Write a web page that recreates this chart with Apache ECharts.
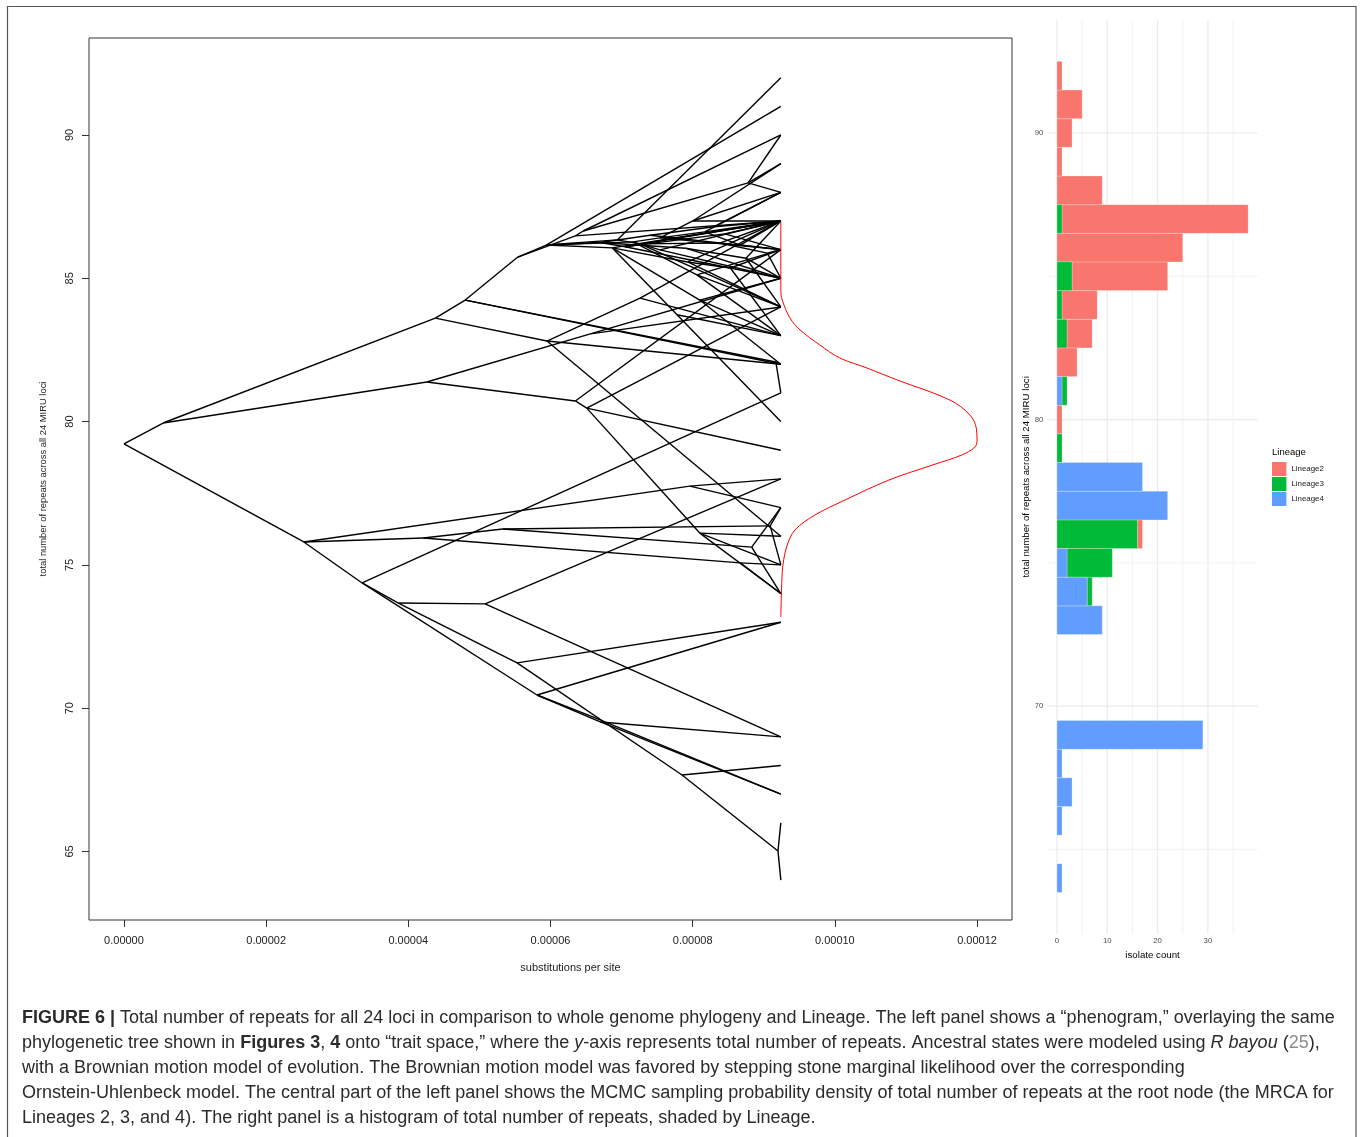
<!DOCTYPE html>
<html><head><meta charset="utf-8">
<script src="https://cdn.jsdelivr.net/npm/echarts@6/dist/echarts.min.js"></script>
<style>html,body{margin:0;padding:0;background:#fff}#c{width:1360px;height:1137px}</style>
</head><body><div id="c"></div>
<script>
// ================= DATA =================
// Phenogram internal nodes: depth (substitutions per site ×1e-5), trait value (total repeats), parent index
const nodeDepth = [0, 0.55, 4.38, 4.26, 4.80, 5.95, 5.54, 5.94, 6.35, 6.94,
  6.46, 7.16, 7.26, 7.54, 8.00, 8.38, 8.06, 8.78, 9.05, 6.87,
  8.10, 7.26, 6.56, 7.78, 6.35, 6.51, 8.10, 9.17, 7.54, 8.17,
  8.67, 7.93, 8.53, 2.53, 4.21, 7.96, 5.33, 8.67, 9.09, 8.83,
  3.35, 3.86, 5.08, 5.53, 7.85, 9.20, 5.81, 6.70, 6.56, 6.70,
  7.40, 8.30, 7.90, 8.75, 7.05, 8.45];
const nodeTrait = [79.22, 79.95, 83.61, 81.38, 84.24, 82.81, 85.74, 86.16, 86.48, 86.34,
  86.65, 86.27, 86.20, 86.41, 87.00, 86.23, 85.12, 88.33, 85.88, 86.06,
  84.24, 84.31, 83.06, 83.73, 80.72, 80.47, 76.11, 82.08, 85.99, 86.62,
  86.16, 85.57, 85.36, 75.80, 75.94, 77.75, 76.25, 75.07, 76.36, 75.62,
  74.37, 73.67, 73.64, 71.58, 67.67, 65.02, 70.46, 69.52, 69.73, 86.25,
  86.50, 86.80, 86.05, 85.70, 86.10, 86.55];
const nodeParent = [-1, 0, 1, 1, 2, 2, 4, 6, 6, 7,
  8, 7, 9, 11, 13, 12, 11, 10, 15, 7,
  19, 5, 3, 19, 3, 24, 25, 4, 11, 13,
  29, 19, 31, 0, 33, 33, 34, 34, 36, 36,
  33, 40, 41, 41, 43, 44, 40, 46, 46, 7,
  49, 50, 49, 52, 49, 54];
// Tips (isolates) all sit at the same depth
const tipDepth = 9.24;
const tipParent = [9, 7, 10, 17, 17, 14, 14, 13, 15, 18, 18, 12, 12, 16, 16, 16, 19, 20, 20, 20,
  21, 21, 22, 22, 23, 23, 27, 27, 4, 5, 25, 25, 26, 26, 26, 28, 28, 29, 29, 30,
  30, 31, 31, 32, 32, 8, 17, 14, 5, 51, 51, 50, 52, 53, 53, 53, 24, 54, 54, 55, 55,
  35, 35, 38, 38, 39, 39, 37, 37, 40, 42, 42, 43, 44, 45, 45, 46, 47, 47, 48];
const tipTrait = [92, 91, 90, 89, 88, 88, 87, 86, 87, 86, 85, 87, 84, 86, 84, 83, 87, 83, 85, 82,
  87, 83, 85, 84, 80, 83, 82, 81, 82, 76, 84, 79, 76, 75, 74, 87, 85, 88, 87, 87,
  86, 84, 87, 86, 83, 87, 90, 89, 82, 87, 88, 86, 85, 87, 84, 85, 86, 85, 87, 87, 86,
  78, 77, 77, 75, 77, 74, 75, 74, 81, 78, 69, 73, 68, 66, 64, 73, 69, 67, 67];
// MCMC root-state density curve (drawn from the tips outward)
const densityTrait = [86.96, 84.59, 84.24, 83.61, 83.20, 82.67, 82.22, 81.87, 81.45, 80.75, 80.23, 79.77,
  79.36, 79.11, 78.83, 78.49, 77.96, 77.26, 76.74, 76.22, 75.69, 75.00, 74.12, 73.18];
const densityDepth = [9.24, 9.24, 9.26, 9.37, 9.51, 9.79, 10.07, 10.45, 10.88, 11.62, 11.90, 11.99,
  12.00, 11.97, 11.78, 11.38, 10.76, 10.14, 9.72, 9.44, 9.33, 9.27, 9.25, 9.24];
// Histogram of total repeats by lineage
const repeatBins = [64,65,66,67,68,69,70,71,72,73,74,75,76,77,78,79,80,81,82,83,84,85,86,87,88,89,90,91,92];
const lineage2Counts = [0,0,0,0,0,0,0,0,0,0,0,0,1,0,0,0,1,0,4,5,7,19,25,37,9,1,3,5,1];
const lineage3Counts = [0,0,0,0,0,0,0,0,0,0,1,9,16,0,0,1,0,1,0,2,1,3,0,1,0,0,0,0,0];
const lineage4Counts = [1,0,1,3,1,29,0,0,0,9,6,2,0,22,17,0,0,1,0,0,0,0,0,0,0,0,0,0,0];
const lineageNames = ['Lineage2', 'Lineage3', 'Lineage4'];
const xTicks = [0, 2, 4, 6, 8, 10, 12];
const yTicks = [65, 70, 75, 80, 85, 90];
const histMajorY = [70, 80, 90], histMinorY = [65, 75, 85];
const countMajor = [0, 10, 20, 30], countMinor = [5, 15, 25, 35];

// ================= BUILD =================
const FONT = '"Liberation Sans", Arial, Helvetica, sans-serif';
const lineageColors = ['#F8766D', '#00BA38', '#619CFF'];
const edges = [];
nodeParent.forEach((p, i) => { if (p >= 0) edges.push([nodeDepth[p], nodeTrait[p], nodeDepth[i], nodeTrait[i]]); });
tipParent.forEach((p, i) => edges.push([nodeDepth[p], nodeTrait[p], tipDepth, tipTrait[i]]));
const densityData = densityDepth.map((x, i) => [x, densityTrait[i]]);

const stacks = [[], [], []];
repeatBins.forEach((b, i) => {
  let s = 0;
  const c = [lineage4Counts[i], lineage3Counts[i], lineage2Counts[i]];
  const idx = [2, 1, 0];
  c.forEach((v, k) => { if (v > 0) stacks[idx[k]].push([b, s, s + v]); s += v; });
});
const gridData = [];
histMajorY.forEach(v => gridData.push([0, v, 0, 1]));
histMinorY.forEach(v => gridData.push([0, v, 0, 0]));
countMajor.forEach(v => gridData.push([v, 70, 1, 1]));
countMinor.forEach(v => gridData.push([v, 70, 1, 0]));

const histSeries = lineageNames.map((name, k) => ({
  name, type: 'custom', xAxisIndex: 1, yAxisIndex: 1, z: 3,
  itemStyle: { color: lineageColors[k] },
  encode: { x: [1, 2], y: 0 },
  data: stacks[k],
  renderItem: (params, api) => {
    const b = api.value(0), s = api.value(1), e = api.value(2);
    const p1 = api.coord([s, b + 0.5]), p2 = api.coord([e, b - 0.5]);
    return { type: 'rect', shape: { x: p1[0], y: p1[1], width: p2[0] - p1[0], height: p2[1] - p1[1] },
      style: { fill: lineageColors[k], stroke: 'rgba(255,255,255,0.35)', lineWidth: 0.7 } };
  }
}));

const chart = echarts.init(document.getElementById('c'), null, { renderer: 'canvas' });
const captionY = [1018, 1043, 1068, 1093, 1118];
const captionLines = [
  '{b|FIGURE 6 |} Total number of repeats for all 24 loci in comparison to whole genome phylogeny and Lineage. The left panel shows a \u201cphenogram,\u201d overlaying the same',
  'phylogenetic tree shown in {b|Figures 3}, {b|4} onto \u201ctrait space,\u201d where the {i|y}-axis represents total number of repeats. Ancestral states were modeled using {i|R bayou} ({g|25}),',
  'with a Brownian motion model of evolution. The Brownian motion model was favored by stepping stone marginal likelihood over the corresponding',
  'Ornstein-Uhlenbeck model. The central part of the left panel shows the MCMC sampling probability density of total number of repeats at the root node (the MRCA for',
  'Lineages 2, 3, and 4). The right panel is a histogram of total number of repeats, shaded by Lineage.'
];
const CAP = 18;
const capColor = '#2b2b2b';
const captionGraphics = captionLines.map((t, i) => ({
  type: 'text', x: 22, y: captionY[i],
  style: { text: t, fontSize: CAP, fontFamily: FONT, fill: capColor, align: 'left', verticalAlign: 'middle',
    rich: {
      b: { fontWeight: 'bold', fontSize: CAP, fontFamily: FONT, fill: capColor },
      i: { fontStyle: 'italic', fontSize: CAP, fontFamily: FONT, fill: capColor },
      g: { fontSize: CAP, fontFamily: FONT, fill: '#8a8a8a' }
    } }
}));

const option = {
  animation: false,
  backgroundColor: '#fff',
  grid: [
    { left: 89, top: 38, width: 923, height: 882, show: true, borderColor: '#333', borderWidth: 1, backgroundColor: 'transparent' },
    { left: 1047.4, top: 19.8, width: 210.3, height: 914.2, show: false }
  ],
  legend: {
    orient: 'vertical', left: 1272, top: 462, padding: 0, itemWidth: 14.4, itemHeight: 14, itemGap: 1, icon: 'rect',
    selectedMode: false,
    textStyle: { fontSize: 7.9, color: '#1a1a1a', fontFamily: FONT },
    data: lineageNames.map((n, k) => ({ name: n, itemStyle: { color: lineageColors[k] } }))
  },
  xAxis: [
    { gridIndex: 0, type: 'value', min: -0.492, max: 12.492,
      splitLine: { show: false }, axisLine: { show: false, onZero: false },
      axisTick: { show: true, inside: false, length: 7, customValues: xTicks, lineStyle: { color: '#333' } },
      axisLabel: { customValues: xTicks, margin: 15, fontSize: 11, color: '#222', fontFamily: FONT,
        formatter: v => (v / 1e5).toFixed(5) },
      name: 'substitutions per site', nameLocation: 'middle', nameGap: 42,
      nameTextStyle: { fontSize: 11, color: '#222', fontFamily: FONT, padding: [0, 0, 0, 40] } },
    { gridIndex: 1, type: 'value', min: -1.9, max: 39.9,
      splitLine: { show: false }, axisLine: { show: false, onZero: false }, axisTick: { show: false },
      axisLabel: { customValues: countMajor, margin: 3, fontSize: 7.8, color: '#4d4d4d', fontFamily: FONT },
      name: 'isolate count', nameLocation: 'middle', nameGap: 14,
      nameTextStyle: { fontSize: 9.7, color: '#000', fontFamily: FONT } }
  ],
  yAxis: [
    { gridIndex: 0, type: 'value', min: 62.61, max: 93.384,
      splitLine: { show: false }, axisLine: { show: false, onZero: false },
      axisTick: { show: true, inside: false, length: 7, customValues: yTicks, lineStyle: { color: '#333' } },
      axisLabel: { customValues: yTicks, rotate: 90, margin: 13.5, fontSize: 11, color: '#222', fontFamily: FONT },
      name: 'total number of repeats across all 24 MIRU loci', nameLocation: 'middle', nameGap: 41, nameRotate: 90,
      nameTextStyle: { fontSize: 9.4, color: '#222', fontFamily: FONT } },
    { gridIndex: 1, type: 'value', min: 62.05, max: 93.95,
      splitLine: { show: false }, axisLine: { show: false, onZero: false }, axisTick: { show: false },
      axisLabel: { customValues: histMajorY, margin: 4, fontSize: 7.8, color: '#4d4d4d', fontFamily: FONT },
      name: 'total number of repeats across all 24 MIRU loci', nameLocation: 'middle', nameGap: 15.4, nameRotate: 90,
      nameTextStyle: { fontSize: 9.7, color: '#000', fontFamily: FONT } }
  ],
  series: [
    { type: 'custom', name: 'tree', xAxisIndex: 0, yAxisIndex: 0, z: 2, clip: false,
      encode: { x: [0, 2], y: [1, 3] }, data: edges,
      renderItem: (params, api) => {
        const a = api.coord([api.value(0), api.value(1)]);
        const b = api.coord([api.value(2), api.value(3)]);
        return { type: 'line', shape: { x1: a[0], y1: a[1], x2: b[0], y2: b[1] },
          style: { stroke: '#000', lineWidth: 1.4 } };
      } },
    { type: 'line', name: 'density', xAxisIndex: 0, yAxisIndex: 0, z: 4, data: densityData,
      showSymbol: false, smooth: 0.35, lineStyle: { color: '#ff0000', width: 1 } },
    { type: 'custom', name: 'grid', xAxisIndex: 1, yAxisIndex: 1, z: 1, data: gridData,
      encode: { x: 0, y: 1 },
      renderItem: (params, api) => {
        const cs = params.coordSys;
        const major = api.value(3) === 1;
        const st = { stroke: major ? '#ebebeb' : '#f1f1f1', lineWidth: major ? 1.2 : 0.9 };
        if (api.value(2) === 0) {
          const y = api.coord([0, api.value(1)])[1];
          return { type: 'line', shape: { x1: cs.x, y1: y, x2: cs.x + cs.width, y2: y }, style: st };
        }
        const x = api.coord([api.value(0), 70])[0];
        return { type: 'line', shape: { x1: x, y1: cs.y, x2: x, y2: cs.y + cs.height }, style: st };
      } },
    ...histSeries
  ],
  graphic: [
    { type: 'rect', shape: { x: 7.5, y: 6.5, width: 1348.5, height: 1140 }, style: { fill: 'none', stroke: '#555', lineWidth: 1.2 }, silent: true },
    { type: 'text', x: 1272, y: 452, style: { text: 'Lineage', fontSize: 9.5, fontFamily: FONT, fill: '#000', align: 'left', verticalAlign: 'middle' } },
    ...captionGraphics
  ]
};
chart.setOption(option);
</script></body></html>
